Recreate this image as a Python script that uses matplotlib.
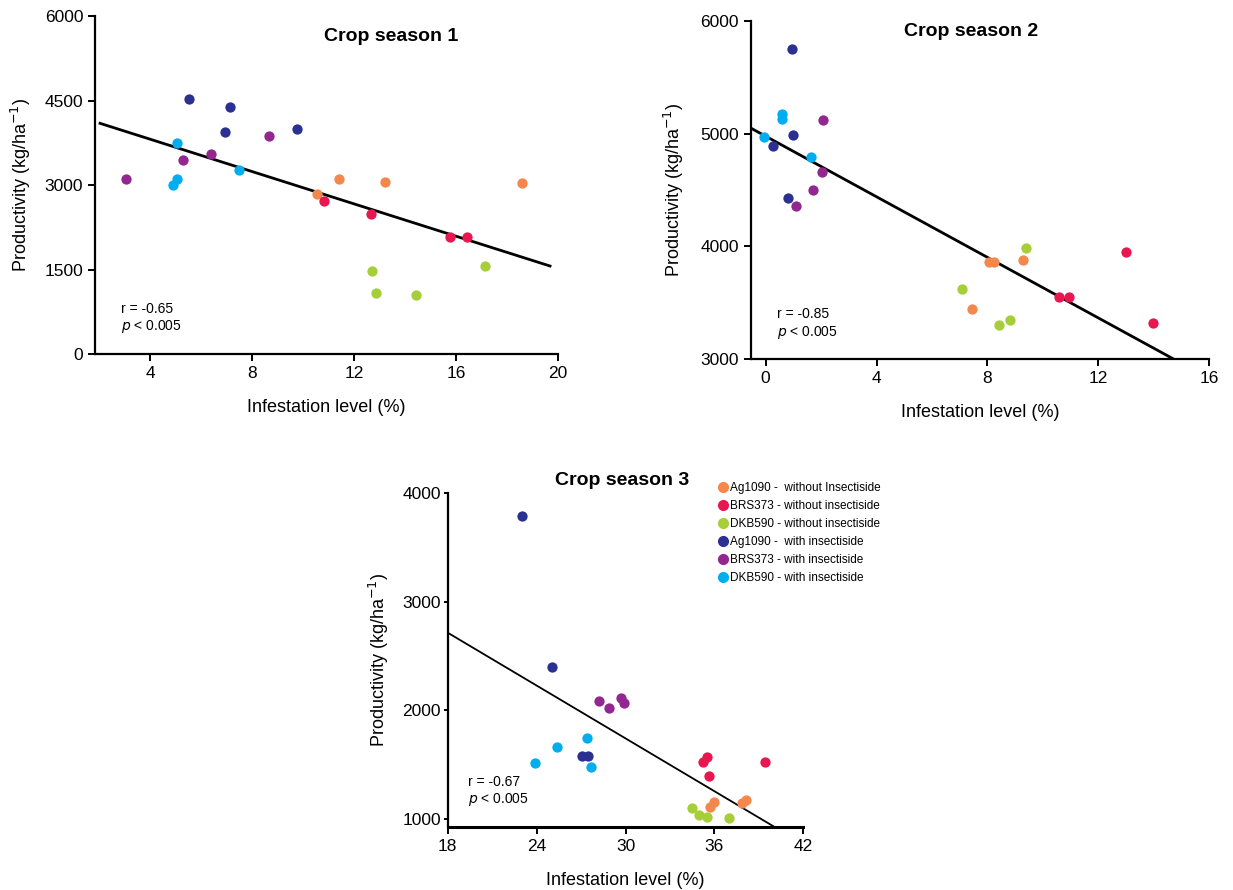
import numpy as np
import matplotlib.pyplot as plt
from matplotlib.lines import Line2D

plt.rcParams['font.family'] = ['Liberation Sans', 'DejaVu Sans']

labels = ['Ag1090 -  without Insectiside', 'BRS373 - without insectiside',
          'DKB590 - without insectiside', 'Ag1090 -  with insectiside',
          'BRS373 - with insectiside', 'DKB590 - with insectiside']
colors = ['#F4874B', '#E8174F', '#A6CE39', '#2B3190', '#92278F', '#00AEEF']

# season 1 (group index refers to labels)
s1_x = [10.54, 11.40, 13.23, 18.59, 10.84, 12.65, 15.76, 16.42, 12.69, 12.85, 14.43, 17.15,
        5.52, 7.14, 6.94, 9.78, 3.06, 5.31, 6.40, 8.68, 5.05, 5.05, 4.91, 7.50]
s1_y = [2840, 3101, 3059, 3030, 2716, 2480, 2077, 2083, 1473, 1088, 1053, 1562,
        4533, 4390, 3947, 3994, 3101, 3449, 3545, 3864, 3751, 3107, 2995, 3261]
s1_g = [0, 0, 0, 0, 1, 1, 1, 1, 2, 2, 2, 2, 3, 3, 3, 3, 4, 4, 4, 4, 5, 5, 5, 5]

# season 2
s2_x = [8.05, 8.22, 9.28, 7.45, 10.57, 10.94, 13.01, 13.96, 9.39, 7.08, 8.42, 8.83,
        0.94, 0.97, 0.28, 0.82, 2.08, 2.05, 1.70, 1.08, -0.06, 0.58, 0.58, 1.62]
s2_y = [3864, 3864, 3879, 3448, 3549, 3549, 3953, 3319, 3982, 3625, 3304, 3348,
        5752, 4988, 4888, 4428, 5124, 4658, 4504, 4357, 4970, 5170, 5125, 4793]
s2_g = [0, 0, 0, 0, 1, 1, 1, 1, 2, 2, 2, 2, 3, 3, 3, 3, 4, 4, 4, 4, 5, 5, 5, 5]

# season 3
s3_x = [35.71, 35.98, 37.84, 38.14, 35.21, 35.53, 35.66, 39.42, 34.47, 34.96, 35.50, 37.01,
        22.99, 25.02, 27.04, 27.49, 28.24, 28.89, 29.70, 29.92, 23.89, 25.36, 27.38, 27.65]
s3_y = [1111, 1151, 1141, 1172, 1526, 1572, 1393, 1526, 1095, 1031, 1018, 1003,
        3794, 2402, 1581, 1581, 2088, 2021, 2116, 2064, 1510, 1664, 1741, 1480]
s3_g = [0, 0, 0, 0, 1, 1, 1, 1, 2, 2, 2, 2, 3, 3, 3, 3, 4, 4, 4, 4, 5, 5, 5, 5]

# regression lines: intercept, slope, x range
fit1 = (4388, -143.5, 2.04, 19.69)
fit2 = (4977, -134.2, -0.54, 14.74)
fit3 = (4176.6, -81.2, 18.0, 40.02)
stats = ['r = -0.65', 'r = -0.85', 'r = -0.67']

fig = plt.figure(figsize=(12.33, 8.9), dpi=100)
ax1 = fig.add_axes([0.0770, 0.6022, 0.3755, 0.3798])
ax2 = fig.add_axes([0.6088, 0.5963, 0.3719, 0.3804])
ax3 = fig.add_axes([0.3631, 0.0711, 0.2884, 0.3746])

panels = [(ax1, s1_x, s1_y, s1_g, fit1, 2.0, 8),
          (ax2, s2_x, s2_y, s2_g, fit2, 2.0, 10.5),
          (ax3, s3_x, s3_y, s3_g, fit3, 1.3, 8)]

for i, (ax, xs, ys, gs, fit, lw, ypad) in enumerate(panels):
    xs = np.array(xs); ys = np.array(ys); gs = np.array(gs)
    for g in range(6):
        m = gs == g
        ax.scatter(xs[m], ys[m], s=55, color=colors[g], zorder=3, linewidths=0)
    b, a, x0, x1 = fit
    lx = np.array([x0, x1])
    ax.plot(lx, b + a * lx, color='black', lw=lw, zorder=2)
    for sp in ['top', 'right']:
        ax.spines[sp].set_visible(False)
    for sp in ['left', 'bottom']:
        ax.spines[sp].set_linewidth(1.6)
    ax.tick_params(direction='out', length=5, width=1.4, labelsize=12.5)
    ax.set_xlabel('Infestation level (%)', fontsize=13, labelpad=13)
    ax.set_ylabel('Productivity (kg/ha$^{-1}$)', fontsize=13, labelpad=ypad)
    ax.text(0.057, 0.055, stats[i] + '\n$\\it{p}$ < 0.005', transform=ax.transAxes,
            fontsize=10, va='bottom', ha='left', linespacing=1.2)

ax1.set_xlim(1.84, 20)
ax1.set_ylim(0, 6000)
ax1.set_xticks([4, 8, 12, 16, 20])
ax1.set_yticks([0, 1500, 3000, 4500, 6000])
ax1.set_title('Crop season 1', fontsize=14, fontweight='bold', x=0.64, y=0.902)

ax2.set_xlim(-0.54, 16)
ax2.set_ylim(3000, 6000)
ax2.set_xticks([0, 4, 8, 12, 16])
ax2.set_yticks([3000, 4000, 5000, 6000])
ax2.set_title('Crop season 2', fontsize=14, fontweight='bold', x=0.48, y=0.93)

ax3.set_xlim(18, 42)
ax3.set_ylim(926, 4000)
ax3.set_xticks([18, 24, 30, 36, 42])
ax3.set_yticks([1000, 2000, 3000, 4000])
ax3.tick_params(axis='y', length=3, pad=2)
ax3.spines['bottom'].set_linewidth(2.2)
ax3.set_title('Crop season 3', fontsize=14, fontweight='bold', x=0.49, y=1.0)

handles = [Line2D([], [], marker='o', ls='', color=c, markersize=7) for c in colors]
fig.legend(handles, labels, loc='upper left', bbox_to_anchor=(0.580, 1 - 477 / 890),
           frameon=False, fontsize=8.5, handlelength=0.6, handletextpad=0.3,
           labelspacing=0.52, borderaxespad=0)

fig.savefig('out.png', dpi=100)
